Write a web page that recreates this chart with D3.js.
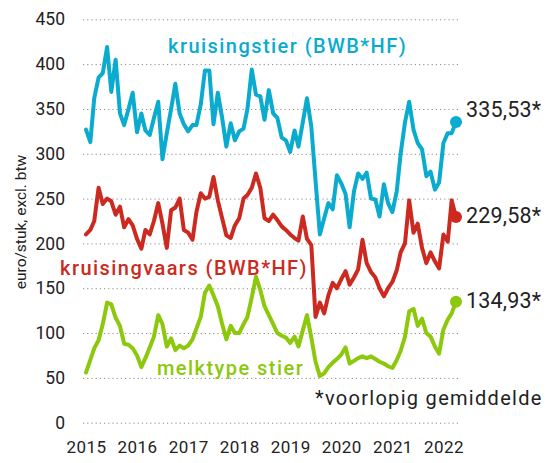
<!DOCTYPE html>
<html>
<head>
<meta charset="utf-8">
<script src="https://cdn.jsdelivr.net/npm/d3@7"></script>
<style>
  html, body { margin: 0; padding: 0; background: #ffffff; }
  svg { display: block; font-family: Roboto, "Liberation Sans", sans-serif; }
</style>
</head>
<body>
<svg id="chart" width="547" height="463"></svg>
<script>
// ---- data (monthly, Jan 2015 .. Apr 2022) ----
const startMonth = "2015-01";
const kruisingstier = [
  327,313,362,385,390,419,369,405,345,332,350,368,
  324,345,326,321,340,358,294,323,350,378,345,333,
  325,332,332,355,393,393,333,368,340,308,334,315,
  325,328,350,394,366,364,338,371,345,340,318,315,
  302,326,308,335,362,330,270,210,228,245,238,276,
  267,255,218,258,278,272,279,250,249,230,266,245,
  235,258,300,335,358,327,312,305,275,280,260,268,
  312,323,323,335.53
];
const kruisingvaars = [
  210,215,225,262,244,250,247,232,241,218,227,220,
  205,194,215,210,225,245,222,195,237,240,250,215,
  212,204,235,256,250,252,274,248,228,209,206,220,
  228,250,254,262,278,262,228,225,232,226,219,215,
  210,206,203,230,205,198,118,134,122,142,156,150,
  160,169,154,162,171,204,178,168,162,150,141,150,
  157,170,190,200,248,212,222,195,178,190,180,172,
  210,202,248,229.58
];
const melktypeStier = [
  56,70,83,92,110,134,132,117,108,88,87,83,
  75,62,72,84,96,120,110,85,94,81,86,83,
  86,93,105,118,145,153,142,130,110,93,108,100,
  100,110,118,140,163,148,130,120,110,100,97,95,
  89,96,85,103,120,95,68,52,55,62,67,71,
  76,84,66,69,72,74,72,74,71,68,66,63,
  61,70,80,96,124,127,108,116,100,96,85,77,
  104,115,122,134.93
];
const seriesNames = ["kruisingstier (BWB*HF)", "kruisingvaars (BWB*HF)", "melktype stier"];
const finalLabels = ["335,53*", "229,58*", "134,93*"];
const yTicks = [0, 50, 100, 150, 200, 250, 300, 350, 400, 450];
const yearTicks = [2015, 2016, 2017, 2018, 2019, 2020, 2021, 2022];
const yTitle = "euro/stuk, excl. btw";
const footnote = "*voorlopig gemiddelde";

// ---- setup ----
const svg = d3.select("#chart");
const colors = ["#0aabcf", "#cc2a20", "#8cc80c"];
const parseMonth = d3.timeParse("%Y-%m");
const t0 = parseMonth(startMonth);
const dates = kruisingstier.map((_, i) => d3.timeMonth.offset(t0, i));

const x = d3.scaleTime()
  .domain([dates[0], dates[dates.length - 1]])
  .range([86, 456]);
const y = d3.scaleLinear().domain([0, 450]).range([422.7, 19.3]);

// ---- grid ----
const grid = svg.append("g")
  .attr("transform", "translate(458,0)")
  .call(d3.axisLeft(y).tickValues(yTicks).tickSize(375).tickFormat(""));
grid.select(".domain").remove();
grid.selectAll("line")
  .attr("stroke", "#8a8a8a")
  .attr("stroke-width", 1)
  .attr("stroke-dasharray", "1.2,3");

// ---- y axis labels ----
const yAxis = svg.append("g")
  .attr("transform", "translate(65,0)")
  .call(d3.axisLeft(y).tickValues(yTicks).tickSize(0).tickPadding(0));
yAxis.select(".domain").remove();
yAxis.selectAll("text")
  .attr("fill", "#222")
  .style("font-size", "17.5px")
  .style("font-family", "Roboto, sans-serif");

// ---- x axis labels ----
const xAxis = svg.append("g")
  .attr("transform", "translate(0,441)")
  .call(d3.axisBottom(x)
    .tickValues(yearTicks.map(yr => new Date(yr, 0, 1)))
    .tickFormat(d3.timeFormat("%Y"))
    .tickSize(0).tickPadding(0));
xAxis.select(".domain").remove();
xAxis.selectAll("text")
  .attr("fill", "#222")
  .attr("dy", "0.71em")
  .style("font-size", "17px")
  .style("letter-spacing", "0.4px")
  .style("font-family", "Roboto, sans-serif");

// ---- y title ----
svg.append("text")
  .attr("transform", "translate(26,222) rotate(-90)")
  .attr("text-anchor", "middle")
  .attr("fill", "#222")
  .style("font-size", "15.5px")
  .text(yTitle);

// ---- lines ----
const allSeries = [kruisingstier, kruisingvaars, melktypeStier];
const line = d3.line()
  .x((d, i) => x(dates[i]))
  .y(d => y(d));

allSeries.forEach((s, k) => {
  svg.append("path")
    .datum(s)
    .attr("fill", "none")
    .attr("stroke", colors[k])
    .attr("stroke-width", 4)
    .attr("stroke-linejoin", "round")
    .attr("stroke-linecap", "round")
    .attr("d", line);
  svg.append("circle")
    .attr("cx", x(dates[s.length - 1]))
    .attr("cy", y(s[s.length - 1]))
    .attr("r", 6)
    .attr("fill", colors[k]);
});

// ---- series labels ----
const labelPos = [[168, 53], [60, 275], [157, 375]];
seriesNames.forEach((n, k) => {
  svg.append("text")
    .attr("x", labelPos[k][0])
    .attr("y", labelPos[k][1])
    .attr("fill", colors[k])
    .style("font-size", "20px")
    .style("font-weight", 500)
    .style("letter-spacing", "1.45px")
    .text(n);
});

// ---- final value labels ----
const finalY = [117, 223, 308];
finalLabels.forEach((t, k) => {
  svg.append("text")
    .attr("x", 466)
    .attr("y", finalY[k])
    .attr("fill", "#222")
    .style("font-size", "21.5px")
    .style("letter-spacing", "0.2px")
    .text(t);
});

// ---- footnote ----
svg.append("text")
  .attr("x", 315)
  .attr("y", 405)
  .attr("fill", "#222")
  .style("font-size", "20px")
  .style("letter-spacing", "1.3px")
  .text(footnote);
</script>
</body>
</html>
